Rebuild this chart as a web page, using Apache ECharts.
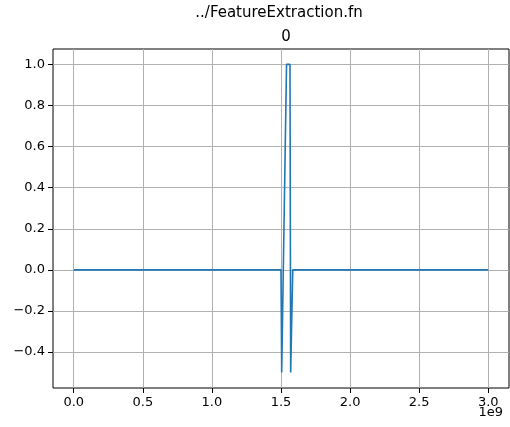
<!DOCTYPE html>
<html><head><meta charset="utf-8">
<script src="https://cdn.jsdelivr.net/npm/echarts@6/dist/echarts.min.js"></script>
<style>html,body{margin:0;padding:0;background:#fff}#c{width:510px;height:427px}</style>
</head><body><div id="c"></div>
<script>
// x in units of 1e9
const xs = [0, 1.5, 1.505, 1.515, 1.54, 1.565, 1.57, 1.58, 1.585, 3.0];
const ys = [0, 0, -0.5, -0.5, 1.0, 1.0, -0.5, -0.5, 0, 0];
const xTicks = [0, 0.5, 1.0, 1.5, 2.0, 2.5, 3.0];
const yTicks = [-0.4, -0.2, 0, 0.2, 0.4, 0.6, 0.8, 1.0];
const data = xs.map((x, i) => [x, ys[i]]);
const font = 'DejaVu Sans';
const chart = echarts.init(document.getElementById('c'));
chart.setOption({
  animation: false,
  title: [
    {text: '../FeatureExtraction.fn', left: 274, top: 1, textAlign: 'center',
     textStyle: {fontFamily: font, fontSize: 15, fontWeight: 'normal', color: '#000'}},
    {text: '0', left: 281, top: 25, textAlign: 'center',
     textStyle: {fontFamily: font, fontSize: 15, fontWeight: 'normal', color: '#000'}},
    {text: '1e9', right: 2, top: 401,
     textStyle: {fontFamily: font, fontSize: 13, fontWeight: 'normal', color: '#000'}}
  ],
  grid: {left: 53, right: 1, top: 49, bottom: 39, show: true, borderColor: '#000', borderWidth: 1, backgroundColor: 'transparent'},
  xAxis: {
    type: 'value', min: -0.15, max: 3.15,
    axisLine: {show: false, onZero: false},
    axisTick: {show: true, inside: false, length: 5, customValues: xTicks, lineStyle: {color: '#000'}},
    axisLabel: {customValues: xTicks, fontFamily: font, fontSize: 13, color: '#000', margin: 8,
      formatter: v => v.toFixed(1)},
    splitLine: {show: true, lineStyle: {color: '#b0b0b0', width: 1}}
  },
  yAxis: {
    type: 'value', min: -0.575, max: 1.075,
    axisLine: {show: false, onZero: false},
    axisTick: {show: true, inside: false, length: 5, customValues: yTicks, lineStyle: {color: '#000'}},
    axisLabel: {customValues: yTicks, fontFamily: font, fontSize: 13, color: '#000', margin: 8,
      formatter: v => (v < 0 ? '\u2212' : '') + Math.abs(v).toFixed(1)},
    splitLine: {show: true, lineStyle: {color: '#b0b0b0', width: 1}}
  },
  series: [{
    type: 'line', data: data, showSymbol: false, symbol: 'none',
    lineStyle: {color: '#1f77b4', width: 1.6}
  }]
});
</script></body></html>
